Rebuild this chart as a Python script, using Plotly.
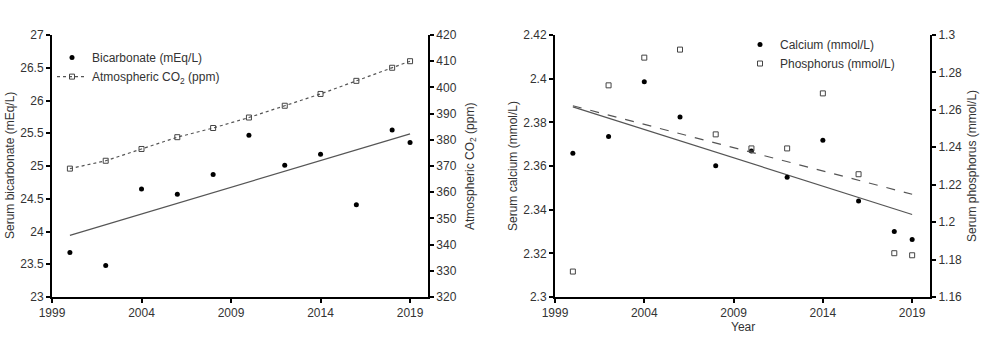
import plotly.graph_objects as go

years = [2000, 2002, 2004, 2006, 2008, 2010, 2012, 2014, 2016, 2018, 2019]
bicarbonate = [23.68, 23.48, 24.65, 24.57, 24.87, 25.47, 25.01, 25.18, 24.41, 25.55, 25.36]
co2 = [369.0, 372.0, 376.5, 381.0, 384.5, 388.5, 393.0, 397.5, 402.5, 407.5, 410.0]
calcium = [2.3658, 2.3735, 2.3986, 2.3825, 2.3601, 2.3669, 2.3549, 2.3718, 2.3440, 2.3300, 2.3263]
phosphorus = [1.1736, 1.2731, 1.2879, 1.2922, 1.2469, 1.2394, 1.2394, 1.2688, 1.2256, 1.1834, 1.1823]

trend_years = [2000, 2019]
bicarb_trend = [23.94, 25.49]
calcium_trend = [2.3871, 2.3378]
phosphorus_trend = [1.2622, 1.2149]

x_ticks = [1999, 2004, 2009, 2014, 2019]

FONT = "Liberation Sans, Arial, sans-serif"
TICKC = "#333333"

fig = go.Figure()

# Left panel
fig.add_trace(go.Scatter(x=trend_years, y=bicarb_trend, mode="lines",
                         line=dict(color="#555555", width=1.2), showlegend=False,
                         xaxis="x", yaxis="y"))
fig.add_trace(go.Scatter(x=years, y=bicarbonate, mode="markers", name="Bicarbonate (mEq/L)",
                         marker=dict(color="black", size=5), xaxis="x", yaxis="y", legend="legend"))
fig.add_trace(go.Scatter(x=years, y=co2, mode="lines+markers", name="Atmospheric CO<sub>2</sub> (ppm)",
                         line=dict(color="#555555", width=1.2, dash="dot"),
                         marker=dict(symbol="square-open", color="#444444", size=5, line=dict(width=1)),
                         xaxis="x", yaxis="y2", legend="legend"))

# Right panel
fig.add_trace(go.Scatter(x=trend_years, y=calcium_trend, mode="lines",
                         line=dict(color="#555555", width=1.2), showlegend=False,
                         xaxis="x2", yaxis="y3"))
fig.add_trace(go.Scatter(x=trend_years, y=phosphorus_trend, mode="lines",
                         line=dict(color="#555555", width=1.2, dash="dash"), showlegend=False,
                         xaxis="x2", yaxis="y4"))
fig.add_trace(go.Scatter(x=years, y=calcium, mode="markers", name="Calcium (mmol/L)",
                         marker=dict(color="black", size=5), xaxis="x2", yaxis="y3", legend="legend2"))
fig.add_trace(go.Scatter(x=years, y=phosphorus, mode="markers", name="Phosphorus (mmol/L)",
                         marker=dict(symbol="square-open", color="#444444", size=5, line=dict(width=1)),
                         xaxis="x2", yaxis="y4", legend="legend2"))

axis_common = dict(showline=True, linecolor="black", linewidth=2, ticks="outside",
                   ticklen=4, tickwidth=1.5, tickcolor="black", showgrid=False, zeroline=False,
                   automargin=False, tickfont=dict(size=12, color=TICKC, family=FONT))

xr = [1999, 2020]
fig.update_layout(
    width=986, height=360,
    margin=dict(l=52, r=56, t=35, b=63, autoexpand=False),
    paper_bgcolor="white", plot_bgcolor="white",
    font=dict(family=FONT, color=TICKC, size=12),
    xaxis=dict(domain=[0, 0.4282], range=xr, tickvals=x_ticks, anchor="y", **axis_common),
    xaxis2=dict(domain=[0.5729, 1], range=xr, tickvals=x_ticks, anchor="y3", **axis_common),
    yaxis=dict(range=[23, 27], dtick=0.5, anchor="x", **axis_common),
    yaxis2=dict(range=[320, 420], dtick=10, anchor="x", overlaying="y", side="right", **axis_common),
    yaxis3=dict(range=[2.3, 2.42], dtick=0.02, anchor="x2", tickformat="~g", **axis_common),
    yaxis4=dict(range=[1.16, 1.3], dtick=0.02, anchor="x2", overlaying="y3", side="right",
                tickformat="~g", **axis_common),
    legend=dict(x=0.0, y=0.969, xanchor="left", yanchor="top", bgcolor="rgba(0,0,0,0)",
                font=dict(size=12, color=TICKC), itemwidth=30, tracegroupgap=0),
    legend2=dict(x=0.7836, y=1.019, xanchor="left", yanchor="top", bgcolor="rgba(0,0,0,0)",
                 font=dict(size=12, color=TICKC), itemwidth=30, tracegroupgap=0),
)

title_font = dict(size=12, color=TICKC, family=FONT)
axis_titles = [
    ("Serum bicarbonate (mEq/L)", -0.0478, 0.5, -90),
    ("Atmospheric CO<sub>2</sub> (ppm)", 0.4772, 0.5, -90),
    ("Serum calcium (mmol/L)", 0.5251, 0.5, -90),
    ("Serum phosphorus (mmol/L)", 1.0478, 0.5, -90),
    ("Year", 0.787, -0.1145, 0),
]
for text, ax, ay, ang in axis_titles:
    fig.add_annotation(text=text, xref="paper", yref="paper", x=ax, y=ay,
                       xanchor="center", yanchor="middle", textangle=ang,
                       showarrow=False, font=title_font)

fig.write_html("out.html", config={"displayModeBar": False},
               post_script="document.body.style.margin='0';")
